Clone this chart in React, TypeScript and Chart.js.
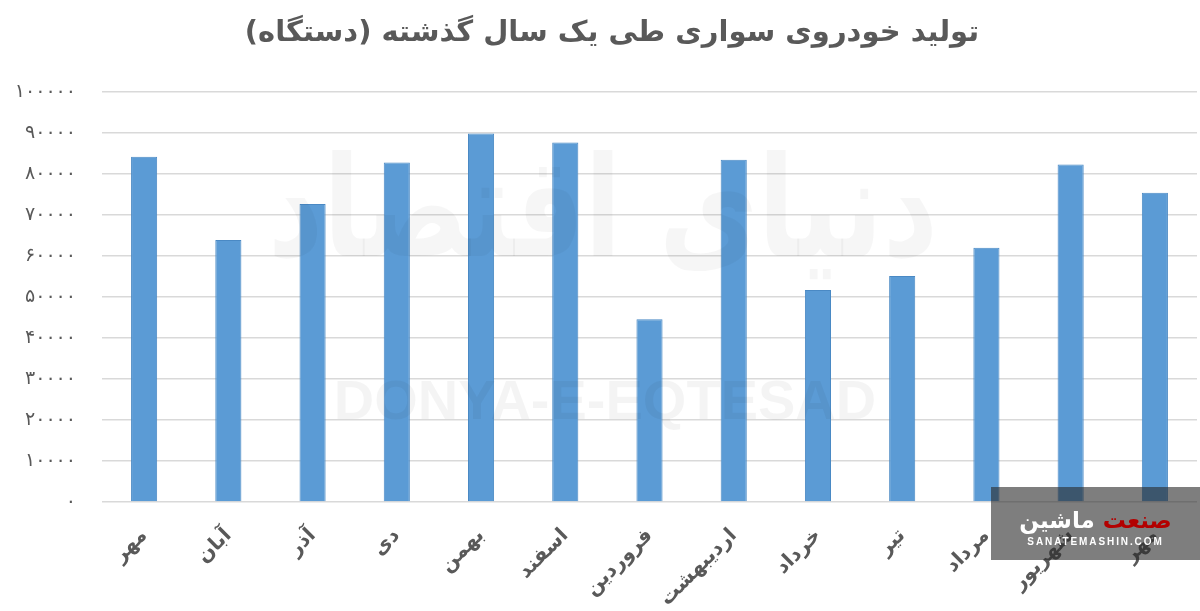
import React, { useEffect, useRef } from 'react';
import { Chart, registerables } from 'chart.js';

Chart.register(...registerables);

const chartTitle = 'تولید خودروی سواری طی یک سال گذشته (دستگاه)';
const categories = ['مهر', 'آبان', 'آذر', 'دی', 'بهمن', 'اسفند', 'فروردین', 'اردیبهشت', 'خرداد', 'تیر', 'مرداد', 'شهریور', 'مهر'];
const production = [84200, 63900, 72700, 82800, 89900, 87700, 44600, 83500, 51700, 55100, 62000, 82300, 75400];
const yTickLabels = ['۰', '۱۰۰۰۰', '۲۰۰۰۰', '۳۰۰۰۰', '۴۰۰۰۰', '۵۰۰۰۰', '۶۰۰۰۰', '۷۰۰۰۰', '۸۰۰۰۰', '۹۰۰۰۰', '۱۰۰۰۰۰'];
const watermarkLatin = 'DONYA-E-EQTESAD';
const watermarkPersian = 'دنیای اقتصاد';
const logoRed = 'صنعت';
const logoWhite = 'ماشین';
const logoUrl = 'SANATEMASHIN.COM';

const TEXT = '#595959';
const FONT = '"DejaVu Sans", "Noto Sans", sans-serif';

const overlayPlugin = {
  id: 'overlayTexts',
  beforeDraw(chart: any) {
    const ctx = chart.ctx;
    ctx.save();
    ctx.fillStyle = '#ffffff';
    ctx.fillRect(0, 0, chart.width, chart.height);
    ctx.fillStyle = TEXT;
    ctx.font = `bold 29px ${FONT}`;
    ctx.textAlign = 'center';
    ctx.textBaseline = 'middle';
    ctx.direction = 'rtl';
    ctx.fillText(chartTitle, 612, 33);
    ctx.restore();
  },
  afterDatasetsDraw(chart: any) {
    const ctx = chart.ctx;
    ctx.save();
    ctx.textAlign = 'center';
    ctx.textBaseline = 'middle';
    ctx.fillStyle = 'rgba(0,0,0,0.035)';
    ctx.font = `bold 140px ${FONT}`;
    ctx.direction = 'rtl';
    ctx.fillText(watermarkPersian, 603, 220, 670);
    ctx.direction = 'ltr';
    ctx.fillStyle = 'rgba(0,0,0,0.045)';
    ctx.font = 'bold 56px "Liberation Sans", Arial, sans-serif';
    ctx.fillText(watermarkLatin, 605, 404, 590);
    ctx.restore();
  },
};

export default function App() {
  const canvasRef = useRef<HTMLCanvasElement | null>(null);

  useEffect(() => {
    document.body.style.margin = '0';
    const canvas = canvasRef.current;
    if (!canvas) return;
    const chart = new Chart(canvas, {
      type: 'bar',
      data: {
        labels: categories,
        datasets: [
          {
            data: production,
            backgroundColor: '#5b9bd5',
            borderColor: '#4a89c4',
            borderWidth: 1,
            barPercentage: 0.31,
            categoryPercentage: 1,
          },
        ],
      },
      options: {
        responsive: false,
        animation: false,
        devicePixelRatio: 1,
        layout: { padding: { top: 92, left: 0, right: 3, bottom: 0 } },
        plugins: {
          legend: { display: false },
          title: { display: false },
          tooltip: { enabled: false },
        },
        scales: {
          x: {
            grid: { display: false },
            border: { display: false },
            ticks: {
              color: TEXT,
              font: { family: FONT, size: 20, weight: 'bold' },
              maxRotation: 45,
              minRotation: 45,
              padding: 14,
              autoSkip: false,
            },
            afterFit: (scale: any) => {
              scale.height = 109;
            },
          },
          y: {
            min: 0,
            max: 100000,
            grid: { color: '#d9d9d9', lineWidth: 1.5, drawTicks: false },
            border: { display: false },
            ticks: {
              stepSize: 10000,
              color: TEXT,
              padding: 26,
              font: { family: FONT, size: 19 },
              callback: (_v: any, i: number) => yTickLabels[i],
            },
            afterFit: (scale: any) => {
              scale.width = 102;
            },
          },
        },
      },
      plugins: [overlayPlugin],
    } as any);
    return () => chart.destroy();
  }, []);

  return (
    <div style={{ position: 'absolute', left: 0, top: 0, width: 1200, height: 611 }}>
      <canvas ref={canvasRef} width={1200} height={611} />
      <div
        style={{
          position: 'absolute',
          left: 991,
          top: 487,
          width: 209,
          height: 73,
          background: 'rgba(40,40,40,0.6)',
          fontFamily: FONT,
        }}
      >
        <div
          dir="rtl"
          style={{
            position: 'absolute',
            left: 0,
            right: 0,
            top: 19,
            textAlign: 'center',
            fontWeight: 'bold',
            fontSize: 23,
            lineHeight: '28px',
          }}
        >
          <span style={{ color: '#b30000' }}>{logoRed}</span>{' '}
          <span style={{ color: '#ffffff' }}>{logoWhite}</span>
        </div>
        <div
          style={{
            position: 'absolute',
            left: 0,
            right: 0,
            top: 49,
            textAlign: 'center',
            color: '#ffffff',
            fontWeight: 'bold',
            fontSize: 10,
            letterSpacing: 1.9,
            lineHeight: '12px',
            fontFamily: '"Liberation Sans", Arial, sans-serif',
          }}
        >
          {logoUrl}
        </div>
      </div>
    </div>
  );
}
